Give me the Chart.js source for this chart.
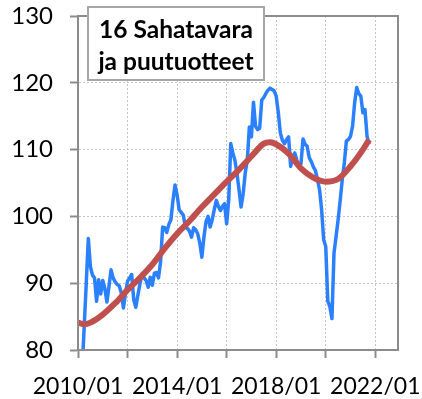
<!DOCTYPE html>
<html>
<head>
<meta charset="utf-8">
<script src="https://cdn.jsdelivr.net/npm/chart.js@4"></script>
<style>
  html, body { margin: 0; padding: 0; background: #fff; }
  #wrap { width: 422px; height: 399px; }
</style>
</head>
<body>
<div id="wrap"><canvas id="priceChart" width="422" height="399"></canvas></div>
<script>
// Monthly index, 2010/01 ... 2021/10 (month 0 = 2010/01)
const startYear = 2010;
const indexValues = [
    72, 74, 77, 83.5, 90, 96.7, 92.5, 91.2, 90.8, 87.3, 90.5, 88.4,
    90.4, 89.2, 87.2, 89.5, 92.0, 90.8, 90.2, 89.8, 89.6, 88.5, 86.3, 88.5,
    90.3, 90.8, 91.3, 87.5, 86.4, 88.2, 89.9, 91.4, 90.8, 90.4, 89.4, 90.9,
    89.7, 91.5, 91.6, 90.8, 93.2, 98.4, 98.3, 97.6, 98.8, 99.5, 102.4, 104.7,
    103.2, 101.0, 100.6, 100.2, 98.4, 98.2, 97.8, 96.9, 98.3, 98.0, 97.4, 96.0,
    93.9, 96.9, 99.2, 100.0, 98.4, 99.5, 101.0, 102.4, 101.5, 100.9, 101.5, 101.9,
    98.9, 102.4, 110.9, 109.5, 108.4, 106.4, 104.0, 101.4, 103.4, 106.5, 108.4, 113.4,
    111.9, 117.1, 113.5, 113.0, 113.2, 117.4, 117.8, 118.4, 118.9, 119.2, 119.0, 118.8,
    118.0, 115.6, 112.5, 111.4, 110.9, 111.5, 111.9, 107.5, 108.9, 109.5, 108.4, 107.6,
    107.9, 111.6, 110.8, 110.5, 108.8, 108.2, 107.4, 106.9, 105.5, 104.0, 101.0, 96.5,
    95.5, 87.3, 86.5, 84.7, 94.5, 97.0, 99.5, 102.4, 105.5, 108.0, 111.3, 111.5,
    112.0, 113.5, 117.0, 119.3, 118.4, 118.0, 115.5, 116.0, 112.0, 110.8
];

// Trend line, read every 6 months
const trendMonths = [0, 3, 6, 12, 18, 24, 30, 36, 42, 48, 54, 60, 66, 72, 78, 84, 90, 93,
    96, 102, 108, 114, 120, 126, 132, 138, 141];
const trendValues = [84.1, 83.85, 84.1, 85.3, 87.0, 89.0, 90.8, 92.8, 95.2, 97.4, 99.3, 101.4,
    103.3, 105.2, 107.0, 109.0, 110.9, 111.1, 110.8, 109.4, 107.2, 105.8, 105.2, 105.6,
    107.5, 110.0, 111.5];

const titleLines = ['16 Sahatavara', 'ja puutuotteet'];

const FONT = 'Lato, "Open Sans", sans-serif';
const AXIS_GREY = '#8c8c8c';
const GRID_GREY = '#c4c4c4';

// plot frame on all four sides, like the axis lines
const plotFrame = {
    id: 'plotFrame',
    afterDatasetsDraw(chart) {
        const {ctx, chartArea: a} = chart;
        ctx.save();
        ctx.strokeStyle = AXIS_GREY;
        ctx.lineWidth = 2;
        ctx.strokeRect(a.left, a.top, a.right - a.left, a.bottom - a.top);
        ctx.restore();
    }
};

// boxed title in the top left corner
const titleBox = {
    id: 'titleBox',
    afterDraw(chart) {
        const {ctx} = chart;
        ctx.save();
        ctx.fillStyle = '#fff';
        ctx.fillRect(88, 7, 176, 73);
        ctx.strokeStyle = '#a6a6a6';
        ctx.lineWidth = 2;
        ctx.strokeRect(88, 7, 176, 73);
        ctx.fillStyle = '#000';
        ctx.font = 'bold 24.5px ' + FONT;
        ctx.textAlign = 'center';
        ctx.textBaseline = 'alphabetic';
        ctx.fillText(titleLines[0], 176, 38);
        ctx.fillText(titleLines[1], 176, 70);
        ctx.restore();
    }
};

// fixed axis sizes; tick labels may run past the plot edges
const fitX = (scale) => {
    scale.height = 49;
    scale.paddingLeft = 0;
    scale.paddingRight = 0;
};
const fitY = (scale) => {
    scale.width = 78;
    scale.paddingTop = 0;
    scale.paddingBottom = 0;
};

const initializeChart = () => {
    const canvas = document.getElementById('priceChart');
    if (!canvas) {
        return;
    }

    new Chart(canvas, {
        type: 'line',
        data: {
            datasets: [
                {
                    data: trendMonths.map((m, i) => ({x: m, y: trendValues[i]})),
                    borderColor: '#c0504d',
                    borderWidth: 6,
                    pointRadius: 0,
                    cubicInterpolationMode: 'monotone',
                    order: 0
                },
                {
                    data: indexValues.map((v, i) => ({x: i, y: v})),
                    borderColor: '#2a80ff',
                    borderWidth: 3.5,
                    pointRadius: 0,
                    tension: 0,
                    borderJoinStyle: 'round',
                    order: 1
                }
            ]
        },
        options: {
            responsive: false,
            animation: false,
            events: [],
            layout: {padding: {left: 0, right: 24, top: 16, bottom: 0}},
            plugins: {
                legend: {display: false},
                tooltip: {enabled: false}
            },
            scales: {
                x: {
                    type: 'linear',
                    min: 0,
                    max: 155,
                    afterFit: fitX,
                    grid: {
                        color: GRID_GREY,
                        lineWidth: 1,
                        drawTicks: true,
                        tickLength: 8,
                        tickColor: AXIS_GREY,
                        tickWidth: 2
                    },
                    border: {color: AXIS_GREY, width: 2, dash: [2, 2]},
                    ticks: {
                        stepSize: 24,
                        includeBounds: false,
                        autoSkip: false,
                        maxRotation: 0,
                        padding: 15,
                        color: '#000',
                        font: {family: FONT, size: 23},
                        callback: (value) => value % 48 === 0 ? `${startYear + value / 12}/01` : ''
                    }
                },
                y: {
                    min: 80,
                    max: 130,
                    afterFit: fitY,
                    grid: {
                        color: GRID_GREY,
                        lineWidth: 1,
                        drawTicks: true,
                        tickLength: 8,
                        tickColor: AXIS_GREY,
                        tickWidth: 2
                    },
                    border: {color: AXIS_GREY, width: 2, dash: [2, 2]},
                    ticks: {
                        stepSize: 10,
                        padding: 17,
                        color: '#000',
                        font: {family: FONT, size: 24}
                    }
                }
            }
        },
        plugins: [plotFrame, titleBox]
    });
}

document.addEventListener('DOMContentLoaded', () => {
    initializeChart();
})
</script>
</body>
</html>
